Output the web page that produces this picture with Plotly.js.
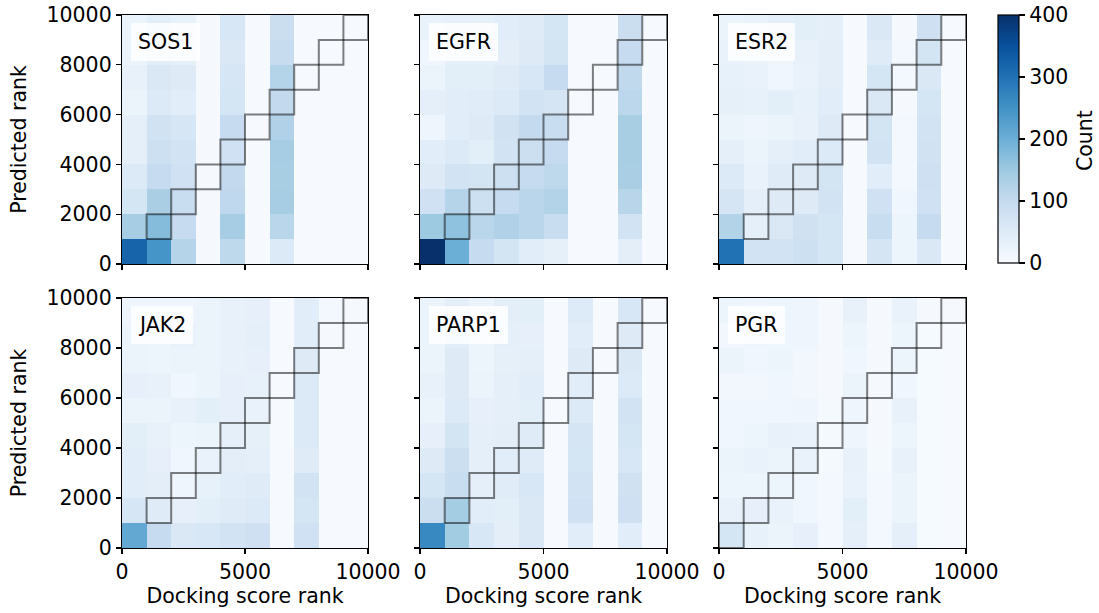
<!DOCTYPE html>
<html>
<head>
<meta charset="utf-8">
<script src="https://cdn.plot.ly/plotly-3.0.1.min.js"></script>
<style>html,body{margin:0;padding:0;background:#fff;}#plot{width:1099px;height:613px;}</style>
</head>
<body>
<div id="plot"></div>
<script>
// Bin edges and centres (docking score rank / predicted rank)
const binEdges = [0,1000,2000,3000,4000,5000,6000,7000,8000,9000,10000];
const binCenters = [500,1500,2500,3500,4500,5500,6500,7500,8500,9500];
const targets = ["SOS1","EGFR","ESR2","JAK2","PARP1","PGR"];
// Diagonal outline start bin per panel
const stairStart = [1,1,1,1,1,0];

// Counts: rows = predicted-rank bin (bottom -> top), cols = docking-score-rank bin
const SOS1 = [
  [320,245,120,5,110,2,55,2,2,2],
  [140,175,100,5,140,2,115,2,2,2],
  [70,135,95,5,108,2,140,2,2,2],
  [55,100,82,5,105,2,138,2,2,2],
  [38,85,75,5,82,2,140,2,2,2],
  [38,78,65,5,100,2,128,2,2,2],
  [25,55,45,5,70,2,105,2,2,2],
  [30,58,50,5,65,2,122,2,2,2],
  [25,40,35,5,58,2,98,2,2,2],
  [22,42,32,5,62,2,92,2,2,2]
];
const EGFR = [
  [400,200,100,72,45,35,2,2,40,2],
  [150,165,115,128,115,93,2,2,75,2],
  [82,120,85,100,115,125,2,2,118,2],
  [50,75,72,85,100,110,2,2,135,2],
  [45,55,42,75,88,100,2,2,138,2],
  [18,45,50,78,102,93,2,2,138,2],
  [38,45,47,55,75,68,2,2,112,2],
  [25,42,42,48,62,100,2,2,107,2],
  [15,35,35,40,50,72,2,2,100,2],
  [28,33,35,45,48,70,2,2,92,2]
];
const ESR2 = [
  [300,75,75,85,70,2,68,20,58,2],
  [125,38,58,80,70,2,95,20,100,2],
  [68,38,50,50,75,2,82,15,82,2],
  [55,28,48,50,72,2,45,10,83,2],
  [38,25,38,45,55,2,75,10,78,2],
  [25,18,25,30,50,2,72,8,75,2],
  [35,32,42,32,45,2,58,5,70,2],
  [32,28,15,28,40,2,70,8,58,2],
  [28,25,18,30,40,2,48,8,72,2],
  [25,28,38,42,38,2,58,5,83,2]
];
const JAK2 = [
  [210,100,58,62,75,83,2,82,2,2],
  [65,48,33,42,48,55,2,70,2,2],
  [45,40,18,32,45,48,2,75,2,2],
  [45,33,15,28,40,38,2,48,2,2],
  [42,30,20,25,38,35,2,55,2,2],
  [25,25,30,42,33,28,2,55,2,2],
  [33,30,15,25,33,32,2,55,2,2],
  [25,20,22,25,30,33,2,50,2,2],
  [22,20,28,22,30,38,2,45,5,2],
  [18,18,18,22,30,33,2,45,10,5]
];
const PARP1 = [
  [265,145,62,40,58,2,45,2,45,2],
  [92,142,45,42,58,2,82,2,83,2],
  [70,95,38,47,62,2,75,2,80,2],
  [50,88,38,45,48,2,70,2,62,2],
  [33,72,38,40,48,2,68,2,70,2],
  [22,55,33,38,42,2,55,2,75,2],
  [30,50,22,38,45,2,45,2,55,2],
  [25,50,20,35,38,2,50,2,58,2],
  [22,45,20,38,33,2,45,2,50,2],
  [22,40,25,40,42,2,52,2,62,2]
];
const PGR = [
  [70,32,25,33,8,38,8,38,4,2],
  [30,33,28,15,8,42,8,25,4,2],
  [20,20,20,15,8,28,8,22,4,2],
  [22,28,24,28,6,30,6,30,4,2],
  [15,20,30,28,6,18,5,20,4,2],
  [15,15,15,18,6,18,5,30,4,2],
  [12,12,15,12,5,25,5,15,4,2],
  [22,15,20,12,5,15,5,20,4,2],
  [12,18,18,18,5,20,5,20,4,2],
  [20,18,20,18,5,30,5,28,5,5]
];
const panelData = [SOS1, EGFR, ESR2, JAK2, PARP1, PGR];

const xTicks = [0,5000,10000];
const yTicks = [0,2000,4000,6000,8000,10000];
const cbTicks = [0,100,200,300,400];

// matplotlib "Blues"
const bluesHex = ["#f7fbff","#deebf7","#c6dbef","#9ecae1","#6baed6","#4292c6","#2171b5","#08519c","#08306b"];
const blues = bluesHex.map((c,i)=>[i/(bluesHex.length-1), c]);

const FONT = "DejaVu Sans, Liberation Sans, sans-serif";
const FS = 20.5;
const W = 1099, H = 613;
const xDom = [[122/W, 368/W],[420/W, 667/W],[719/W, 966/W]];
const yDom = [[1-264/H, 1-15/H],[1-548/H, 1-298/H]];

function stairs(s){
  const e = binEdges;
  const ux=[], uy=[], lx=[], ly=[];
  ux.push(e[s]); uy.push(e[s]);
  for(let i=s;i<10;i++){ ux.push(e[i]); uy.push(e[i+1]); ux.push(e[i+1]); uy.push(e[i+1]); }
  lx.push(e[s]); ly.push(e[s]);
  for(let i=s;i<10;i++){ lx.push(e[i+1]); ly.push(e[i]); lx.push(e[i+1]); ly.push(e[i+1]); }
  return {x: ux.concat([null]).concat(lx), y: uy.concat([null]).concat(ly)};
}

const traces = [];
const layout = {
  width: W, height: H,
  margin: {l:0,r:0,t:0,b:0},
  paper_bgcolor: "#fff", plot_bgcolor: "#fff",
  font: {family: FONT, size: FS, color: "#000"},
  showlegend: false,
  annotations: [{
    xref: "paper", yref: "paper", x: 1085/W, y: 1-141/H,
    xanchor: "center", yanchor: "middle", showarrow: false, textangle: -90,
    text: "Count", font: {family: FONT, size: FS, color: "#000"}
  }],
  coloraxis: {
    cmin: 0, cmax: 400, colorscale: blues,
    colorbar: {
      x: 998/W, xanchor: "left", xref: "paper", xpad: 0,
      y: 1-15/H, yanchor: "top", yref: "paper", ypad: 0,
      len: 248/H, lenmode: "fraction",
      thickness: 21, thicknessmode: "pixels",
      outlinewidth: 1.2, outlinecolor: "#000",
      ticks: "outside", ticklen: 6, tickwidth: 1.2, tickcolor: "#000",
      tickvals: cbTicks, ticktext: cbTicks.map(String), tickprefix: "\u00a0",
      tickfont: {family: FONT, size: FS, color: "#000"}
    }
  }
};

for(let p=0;p<6;p++){
  const row = Math.floor(p/3), col = p%3;
  const n = p+1;
  const xa = n===1 ? "x" : "x"+n, ya = n===1 ? "y" : "y"+n;
  traces.push({
    type: "heatmap", x: binCenters, y: binCenters, z: panelData[p],
    coloraxis: "coloraxis", xaxis: xa, yaxis: ya, hoverinfo: "skip"
  });
  const st = stairs(stairStart[p]);
  traces.push({
    type: "scatter", mode: "lines", x: st.x, y: st.y, xaxis: xa, yaxis: ya,
    line: {color: "rgba(0,0,0,0.5)", width: 2}, hoverinfo: "skip", cliponaxis: false
  });
  const common = {
    range: [0,10000], showline: true, mirror: true, linecolor: "#000", linewidth: 1.2,
    ticks: "outside", ticklen: 5, tickwidth: 1.2, tickcolor: "#000",
    showgrid: false, zeroline: false,
    tickfont: {family: FONT, size: FS, color: "#000"}
  };
  layout["xaxis"+(n===1?"":n)] = Object.assign({}, common, {
    domain: xDom[col], anchor: ya, tickvals: xTicks, ticktext: xTicks.map(String),
    showticklabels: row===1,
    title: row===1 ? {text: "Docking score rank", font: {family: FONT, size: FS, color: "#000"}, standoff: 5} : {text: ""}
  });
  layout["yaxis"+(n===1?"":n)] = Object.assign({}, common, {
    domain: yDom[row], anchor: xa, tickvals: yTicks, ticktext: yTicks.map(String),
    showticklabels: col===0,
    title: col===0 ? {text: "Predicted rank", font: {family: FONT, size: FS, color: "#000"}, standoff: 14} : {text: ""}
  });
  layout.annotations.push({
    xref: xa + " domain", yref: ya + " domain", x: 0.037, y: 0.968,
    xanchor: "left", yanchor: "top", showarrow: false,
    text: targets[p], font: {family: FONT, size: FS, color: "#000"},
    bgcolor: "rgba(255,255,255,0.8)", borderpad: 7, borderwidth: 0
  });
}

Plotly.newPlot("plot", traces, layout, {displayModeBar: false, staticPlot: true});
</script>
</body>
</html>
